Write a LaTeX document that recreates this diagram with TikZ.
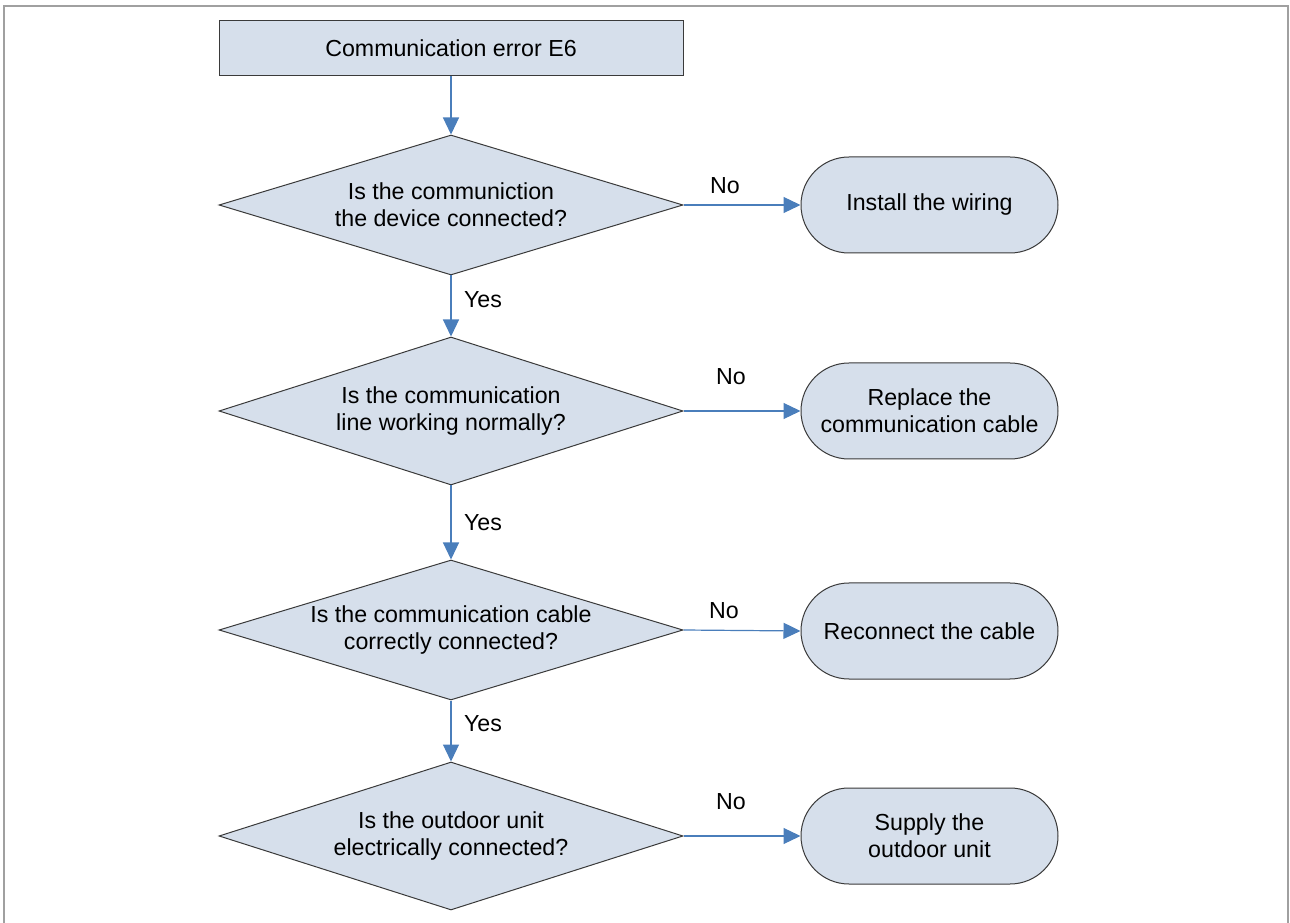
\documentclass[tikz,border=0pt]{standalone}
\usepackage{fontspec}
\setmainfont{Liberation Sans}
\usetikzlibrary{shapes.geometric,arrows.meta}
\definecolor{boxfill}{HTML}{D6DFEB}
\definecolor{arrowblue}{HTML}{4A7EBB}
\definecolor{edgegray}{HTML}{3A3A3A}
\definecolor{framegray}{HTML}{A0A0A0}
\tikzset{
  txt/.style={font=\fontsize{17.4}{20.25}\selectfont, align=center},
  startbox/.style={txt, draw=edgegray, line width=0.75pt, fill=boxfill, rectangle,
    minimum width=348pt, minimum height=41.25pt, inner sep=0pt},
  decision/.style={txt, draw=edgegray, line width=0.75pt, fill=boxfill, diamond,
    shape aspect=3.3, inner sep=0pt, minimum width=348pt},
  endbox/.style={txt, draw=edgegray, line width=0.75pt, fill=boxfill, rectangle,
    rounded corners=36pt, minimum width=192.75pt, minimum height=72pt, inner sep=0pt},
  flow/.style={draw=arrowblue, line width=0.9pt,
    -{Triangle[length=12.75pt,width=12pt]}},
  lbl/.style={txt, inner sep=0pt}
}
\begin{document}
\begin{tikzpicture}[x=0.75pt,y=-0.75pt]
\useasboundingbox (0,0) rectangle (1290,923);
\draw[framegray, line width=1.5pt] (4,923) -- (4,6) -- (1288,6) -- (1288,923);

\node[startbox] (s) at (451,48.5) {Communication error E6};

\node[decision, minimum height=105pt] (d1) at (451,205) {Is the communiction\\the device connected?};
\node[decision, minimum height=111pt] (d2) at (451,411) {Is the communication\\line working normally?};
\node[decision, minimum height=105pt] (d3) at (451,630) {Is the communication cable\\correctly connected?};
\node[decision, minimum height=111pt] (d4) at (451,836) {Is the outdoor unit\\electrically connected?};

\node[endbox] (t1) at (929.5,205) {Install the wiring};
\node[endbox] (t2) at (929.5,411) {Replace the\\communication cable};
\node[endbox] (t3) at (929.5,631) {Reconnect the cable};
\node[endbox] (t4) at (929.5,836) {Supply the\\outdoor unit};

\draw[flow] (s.south) -- (d1.north);
\draw[flow] (d1.south) -- (d2.north);
\draw[flow] (d2.south) -- (d3.north);
\draw[flow] (d3.south) -- (d4.north);

\draw[flow] (d1.east) -- (t1.west);
\draw[flow] (d2.east) -- (t2.west);
\draw[flow] (d3.east) -- (t3.west);
\draw[flow] (d4.east) -- (t4.west);

\node[lbl] (n1) at (725,186) {No};
\node[lbl] (n2) at (731,377) {No};
\node[lbl] (n3) at (724,611) {No};
\node[lbl] (n4) at (731,802) {No};
\node[lbl] (y1) at (483,300) {Yes};
\node[lbl] (y2) at (483,523) {Yes};
\node[lbl] (y3) at (483,724) {Yes};
\end{tikzpicture}
\end{document}
